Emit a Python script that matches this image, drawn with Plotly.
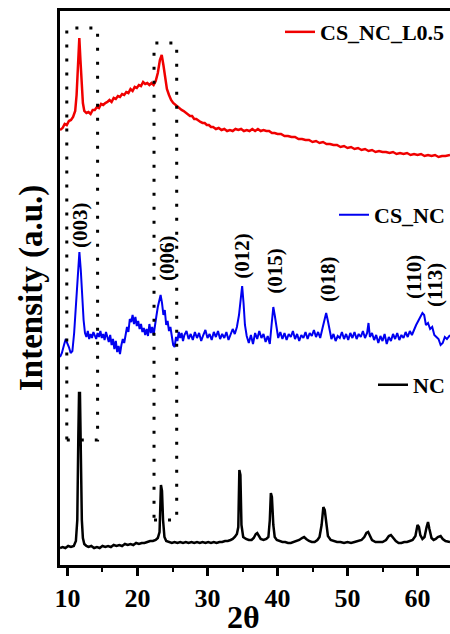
import plotly.graph_objects as go

# ---------------- data (2θ in degrees, intensity in arbitrary units, curves already stacked) -------------
red_x = [8.93, 9.3, 9.6, 9.9, 10.2, 10.5, 10.8, 11.1, 11.3, 11.5, 11.69, 11.85, 12.0, 12.2, 12.4, 12.7,
         13.0, 13.3, 13.6, 13.9, 14.2, 14.5, 14.8, 15.1, 15.4, 15.7, 16.0, 16.3, 16.6, 16.9, 17.2, 17.5,
         17.8, 18.1, 18.4, 18.7, 19.0, 19.3, 19.6, 19.9, 20.2, 20.5, 20.8, 21.1, 21.4, 21.7, 22.0, 22.3,
         22.6, 22.9, 23.2, 23.46, 23.7, 23.95, 24.2, 24.5, 24.8, 25.1, 25.4, 25.7, 26.0, 26.3, 26.6, 26.9,
         27.2, 27.5, 27.8, 28.1, 28.4, 28.7, 29.0, 29.3, 29.6, 29.9, 30.2, 30.5, 30.8, 31.2, 31.6, 32.0,
         32.4, 32.8, 33.2, 33.6, 34.0, 34.4, 34.8, 35.2, 35.6, 36.0, 36.4, 36.8, 37.2, 37.6, 38.0, 38.4,
         38.8, 39.2, 39.6, 40.0, 40.5, 41.0, 41.5, 42.0, 42.5, 43.0, 43.5, 44.0, 44.5, 45.0, 45.5, 46.0,
         46.5, 47.0, 47.5, 48.0, 48.5, 49.0, 49.5, 50.0, 50.5, 51.0, 51.5, 52.0, 52.5, 53.0, 53.5, 54.0,
         54.5, 55.0, 55.5, 56.0, 56.5, 57.0, 57.5, 58.0, 58.5, 59.0, 59.5, 60.0, 60.5, 61.0, 61.5, 62.0,
         62.5, 63.0, 63.5, 64.0, 64.64]
red_y = [435, 437, 441, 440, 444, 445, 448, 454, 470, 500, 527, 505, 480, 462, 454, 452,
         453, 451, 455, 455, 458, 457, 461, 460, 462, 463, 465, 463, 467, 466, 469, 468,
         471, 470, 473, 472, 476, 474, 478, 477, 480, 479, 483, 481, 482, 480, 482, 480,
         484, 492, 505, 510, 500, 486, 476, 470, 465, 462, 460, 458, 457, 455, 454, 452,
         451, 449, 449, 446, 446, 444, 443, 442, 442, 440, 440, 438, 438, 436, 437, 435,
         436, 434, 435, 434, 436, 435, 436, 434, 435, 434, 436, 434, 436, 434, 435, 434,
         434, 432, 432, 431, 431, 429, 429, 428, 428, 426, 426, 425, 425, 423, 424, 422,
         423, 421, 421, 420, 420, 418, 419, 417, 418, 416, 417, 415, 416, 414, 415, 413,
         414, 413, 413, 412, 413, 411, 412, 411, 412, 410, 411, 410, 411, 409, 410, 409,
         410, 408, 409, 409, 410]

blue_x = [8.93, 9.2, 9.5, 9.75, 9.95, 10.2, 10.45, 10.7, 10.95, 11.2, 11.45, 11.7, 11.9, 12.1, 12.3, 12.5,
          12.7, 12.9, 13.1, 13.3, 13.5, 13.7, 13.9, 14.1, 14.3, 14.5, 14.7, 14.9, 15.1, 15.3, 15.5, 15.7,
          15.9, 16.1, 16.3, 16.5, 16.7, 16.9, 17.1, 17.3, 17.5, 17.7, 17.9, 18.1, 18.3, 18.5, 18.7, 18.9,
          19.1, 19.3, 19.5, 19.7, 19.9, 20.1, 20.3, 20.5, 20.7, 20.9, 21.1, 21.3, 21.5, 21.7, 21.9, 22.1,
          22.3, 22.5, 22.7, 22.9, 23.1, 23.3, 23.5, 23.7, 23.9, 24.1, 24.3, 24.5, 24.7, 24.9, 25.1, 25.3,
          25.5, 25.7, 25.9, 26.1, 26.3, 26.5, 26.7, 27.0, 27.3, 27.6, 27.9, 28.2, 28.5, 28.8, 29.1, 29.4,
          29.7, 30.0, 30.3, 30.6, 30.9, 31.2, 31.5, 31.8, 32.1, 32.4, 32.7, 33.0, 33.3, 33.6, 33.9, 34.2,
          34.5, 34.75, 34.95, 35.15, 35.35, 35.6, 35.9, 36.2, 36.5, 36.8, 37.1, 37.4, 37.7, 38.0, 38.3, 38.6,
          38.9, 39.15, 39.4, 39.6, 39.85, 40.1, 40.4, 40.7, 41.0, 41.3, 41.6, 41.9, 42.2, 42.5, 42.8, 43.1,
          43.4, 43.7, 44.0, 44.3, 44.6, 44.9, 45.2, 45.5, 45.8, 46.1, 46.4, 46.7, 46.95, 47.2, 47.45, 47.7,
          48.0, 48.3, 48.6, 48.9, 49.2, 49.5, 49.8, 50.1, 50.4, 50.7, 51.0, 51.3, 51.6, 51.9, 52.2, 52.5,
          52.8, 53.0, 53.2, 53.5, 53.8, 54.1, 54.4, 54.7, 55.0, 55.3, 55.6, 55.9, 56.2, 56.5, 56.8, 57.1,
          57.4, 57.7, 58.0, 58.3, 58.6, 58.9, 59.2, 59.5, 59.8, 60.1, 60.4, 60.7, 60.95, 61.2, 61.5, 61.8,
          62.1, 62.4, 62.7, 63.0, 63.3, 63.6, 63.9, 64.2, 64.64]
blue_y = [208, 212, 220, 226, 222, 218, 212, 214, 232, 258, 290, 313, 295, 268, 245, 232,
          228, 234, 226, 231, 227, 233, 229, 226, 232, 228, 234, 227, 231, 225, 233, 229,
          223, 230, 220, 226, 216, 224, 213, 219, 211, 220, 226, 222, 232, 238, 233, 246,
          243, 250, 241, 248, 239, 244, 236, 241, 233, 237, 230, 236, 229, 241, 232, 238,
          230, 242, 249, 258, 266, 270, 262, 250, 255, 240, 244, 234, 238, 226, 220, 218,
          228, 224, 233, 227, 232, 224, 230, 234, 226, 231, 225, 233, 227, 232, 224, 230,
          235, 227, 231, 225, 233, 228, 234, 226, 231, 227, 233, 225, 230, 236, 231, 238,
          250, 270, 279, 262, 240, 229, 222, 230, 221, 232, 226, 234, 227, 231, 223, 229,
          221, 240, 258, 250, 236, 227, 233, 226, 232, 225, 231, 228, 234, 226, 231, 224,
          230, 227, 233, 226, 232, 229, 235, 228, 233, 227, 236, 246, 252, 244, 233, 226,
          231, 224, 229, 227, 233, 226, 231, 225, 232, 227, 233, 226, 231, 228, 234, 227,
          232, 242, 228, 232, 225, 230, 222, 229, 224, 231, 221, 228, 224, 231, 226, 232,
          225, 230, 227, 233, 228, 234, 230, 236, 240, 244, 248, 252, 250, 240, 242, 236,
          238, 230, 228, 226, 220, 222, 228, 226, 230]

black_x = [8.93, 9.3, 9.7, 10.1, 10.5, 10.9, 11.2, 11.4, 11.55, 11.65, 11.78, 11.9, 12.05, 12.2, 12.4, 12.7,
           13.0, 13.4, 13.8, 14.2, 14.6, 15.0, 15.4, 15.8, 16.2, 16.6, 17.0, 17.4, 17.8, 18.2, 18.6, 19.0,
           19.4, 19.8, 20.2, 20.6, 21.0, 21.4, 21.8, 22.2, 22.6, 22.9, 23.15, 23.35, 23.5, 23.65, 23.85, 24.1,
           24.5, 24.9, 25.3, 25.7, 26.1, 26.5, 26.9, 27.3, 27.7, 28.1, 28.5, 28.9, 29.3, 29.7, 30.1, 30.5,
           30.9, 31.3, 31.7, 32.1, 32.5, 32.9, 33.3, 33.6, 33.9, 34.2, 34.4, 34.55, 34.7, 34.85, 35.1, 35.5,
           35.9, 36.3, 36.6, 36.9, 37.1, 37.3, 37.6, 38.0, 38.4, 38.7, 38.9, 39.05, 39.2, 39.4, 39.6, 39.9,
           40.3, 40.7, 41.1, 41.5, 41.9, 42.3, 42.7, 43.1, 43.5, 43.8, 44.1, 44.5, 44.9, 45.3, 45.7, 46.0,
           46.3, 46.55, 46.75, 46.95, 47.2, 47.6, 48.0, 48.5, 49.0, 49.5, 50.0, 50.5, 51.0, 51.5, 52.0, 52.4,
           52.7, 52.95, 53.2, 53.5, 54.0, 54.5, 55.0, 55.5, 55.9, 56.2, 56.5, 56.9, 57.3, 57.7, 58.1, 58.5,
           58.9, 59.3, 59.7, 60.0, 60.2, 60.4, 60.7, 61.0, 61.3, 61.5, 61.7, 62.0, 62.3, 62.6, 62.9, 63.3,
           63.6, 64.0, 64.64]
black_y = [17, 18, 17, 19, 18, 19, 24, 45, 130, 172, 172, 95, 45, 27, 21, 19,
           18, 19, 17, 18, 17, 19, 18, 19, 18, 20, 19, 20, 19, 21, 20, 21,
           20, 22, 21, 22, 22, 23, 24, 24, 25, 27, 33, 80, 74, 45, 28, 24,
           23, 22, 23, 22, 23, 22, 23, 22, 23, 22, 23, 22, 23, 22, 23, 22,
           23, 22, 23, 23, 24, 24, 25, 26, 28, 31, 38, 95, 90, 40, 28, 26,
           25, 25, 27, 31, 32, 29, 26, 25, 26, 28, 45, 72, 68, 40, 28, 25,
           24, 23, 23, 22, 22, 23, 24, 25, 27, 28, 26, 24, 23, 23, 25, 28,
           40, 58, 55, 40, 29, 25, 24, 23, 23, 22, 23, 22, 23, 24, 25, 28,
           32, 33, 29, 25, 23, 23, 23, 25, 29, 30, 27, 24, 22, 22, 23, 23,
           24, 25, 29, 40, 38, 30, 26, 28, 38, 43, 36, 27, 25, 26, 28, 29,
           26, 24, 23]

series_names = ["CS_NC_L0.5", "CS_NC", "NC"]
series_colors = ["#f00000", "#0000f0", "#000000"]

hkl_labels = ["(003)", "(006)", "(012)", "(015)", "(018)", "(110)", "(113)"]
hkl_x = [11.8, 24.2, 34.9, 39.6, 47.2, 59.5, 62.5]
hkl_y = [340, 307, 309, 294, 286, 288, 280]

box_x0 = [9.9, 22.36]
box_x1 = [14.3, 25.6]
box_y0 = [125, 45]
box_y1 = [537, 522]

# ---------------- figure -------------
SERIF = "Liberation Serif"
fig = go.Figure()
widths = [2.5, 2, 2.5]
legend_ids = ["legend", "legend2", "legend3"]
for xs, ys, name, col, w, lg in zip([red_x, blue_x, black_x], [red_y, blue_y, black_y],
                                    series_names, series_colors, widths, legend_ids):
    fig.add_trace(go.Scatter(x=xs, y=ys, mode="lines", name=name,
                             line=dict(color=col, width=w), legend=lg))

for x0, x1, y0, y1 in zip(box_x0, box_x1, box_y0, box_y1):
    fig.add_shape(type="rect", x0=x0, x1=x1, y0=y0, y1=y1, xref="x", yref="y",
                  line=dict(color="black", width=3, dash="3px,11px"))

for t, x, y in zip(hkl_labels, hkl_x, hkl_y):
    fig.add_annotation(x=x, y=y, text=t, textangle=-90, showarrow=False,
                       font=dict(family=SERIF, size=21, color="black", weight="bold"))

fig.add_annotation(xref="paper", yref="paper", x=0, y=0.5, xshift=-29, text="Intensity (a.u.)",
                   textangle=-90, showarrow=False, xanchor="center", yanchor="middle",
                   font=dict(family=SERIF, size=33, color="black", weight="bold"))
fig.add_annotation(xref="x", yref="paper", x=35.2, y=0, yshift=-52, text="2θ",
                   showarrow=False, xanchor="center", yanchor="middle",
                   font=dict(family=SERIF, size=32, color="black", weight="bold"))

leg_font = dict(family=SERIF, size=22, color="black", weight="bold")
leg_common = dict(xanchor="right", yanchor="middle", bgcolor="rgba(0,0,0,0)", font=leg_font,
                  borderwidth=0, itemwidth=30)
fig.update_layout(
    legend=dict(x=1.0, y=0.962, **leg_common),
    legend2=dict(x=1.0, y=0.632, **leg_common),
    legend3=dict(x=1.0, y=0.325, **leg_common),
)

fig.update_xaxes(range=[8.93, 64.64], showline=True, linecolor="black", linewidth=2.5, mirror=True,
                 ticks="outside", ticklen=8, tickwidth=2.5, tickcolor="black", tick0=10, dtick=10,
                 tickfont=dict(family=SERIF, size=26, color="black", weight="bold"),
                 minor=dict(ticks="outside", ticklen=4, tickwidth=2, tickcolor="black", dtick=5, tick0=10),
                 showgrid=False, zeroline=False)
fig.update_yaxes(range=[0, 554], showline=True, linecolor="black", linewidth=2.5, mirror=False,
                 showticklabels=False, ticks="", showgrid=False, zeroline=False)

fig.update_layout(width=450, height=634, margin=dict(l=60, r=0, t=11, b=69),
                  plot_bgcolor="white", paper_bgcolor="white", showlegend=True)

fig.write_html("out.html", config={"displayModeBar": False},
               post_script="document.body.style.margin='0';document.body.style.overflow='hidden';")
